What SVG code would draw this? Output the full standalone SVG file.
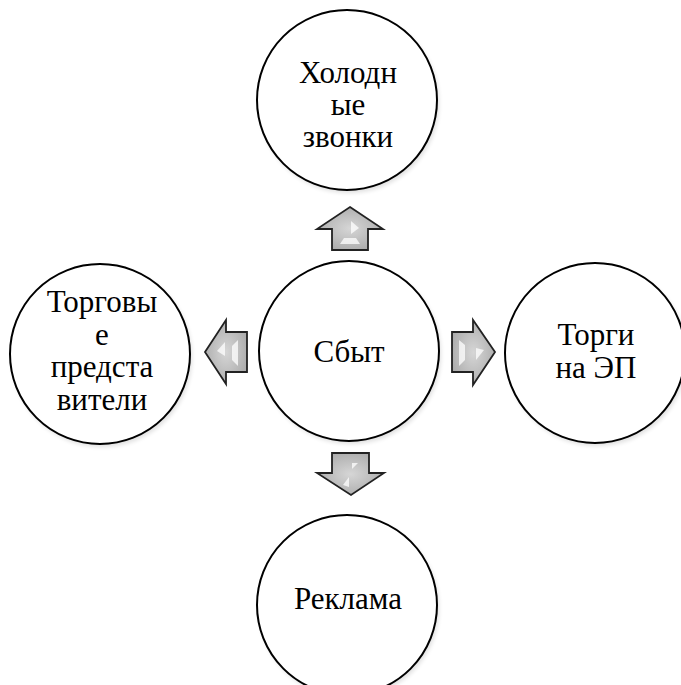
<svg xmlns="http://www.w3.org/2000/svg" width="681" height="685" viewBox="0 0 681 685">
<style>
.node circle.c{fill:#fff;stroke:#000;stroke-width:2}
.node circle.s{fill:#000;opacity:0.12}
.t{font-family:"Liberation Serif","Times New Roman",serif;font-size:31px;fill:#000;text-anchor:middle}
.arr{fill:url(#g);stroke:#222;stroke-width:1.8;stroke-linejoin:miter}
.hl{fill:#fff;opacity:0.75}
</style>
<defs>
<radialGradient id="g" cx="0.5" cy="0.5" r="0.6">
<stop offset="0" stop-color="#d6d6d6"/>
<stop offset="1" stop-color="#a8a8a8"/>
</radialGradient>
<filter id="blur" x="-20%" y="-20%" width="140%" height="140%"><feGaussianBlur stdDeviation="2"/></filter>
</defs>
<rect width="681" height="685" fill="#fff"/>
<g id="connectors">
<g id="arrow-up">
<polygon class="arr" points="350,207 383,229 368,229 368,250 332,250 332,229 317,229"/>
<polygon class="hl" points="351,221 359,228 351,234"/>
<polygon class="hl" points="340,244 344,238 356,238 360,244"/>
</g>
<g id="arrow-down">
<polygon class="arr" points="332,453 369,453 369,473 384,473 351,495 317,473 332,473"/>
<polygon class="hl" points="352,463 358,463 352,469"/>
<polygon class="hl" points="343,485 349,477 349,487"/>
</g>
<g id="arrow-left">
<polygon class="arr" points="205,352 226,320 226,332 247,332 247,372 226,372 226,384"/>
<polygon class="hl" points="217,351 225,342 225,356"/>
<polygon class="hl" points="238,340 238,366 232,360 232,346"/>
</g>
<g id="arrow-right">
<polygon class="arr" points="452,332 473,332 473,320 495,352 473,385 473,372 452,372"/>
<polygon class="hl" points="459,340 465,345 465,360 459,366"/>
<polygon class="hl" points="476,348 484,350 476,360"/>
</g>
</g>
<g id="node-top" class="node">
<circle class="s" cx="349" cy="103" r="90" filter="url(#blur)"/>
<circle class="c" cx="347" cy="100" r="90"/>
<text class="t" x="348" y="83">Холодн</text>
<text class="t" x="348" y="115">ые</text>
<text class="t" x="348" y="147">звонки</text>
</g>
<g id="node-center" class="node">
<circle class="s" cx="351" cy="354" r="90" filter="url(#blur)"/>
<circle class="c" cx="349" cy="351" r="90"/>
<text class="t" x="349" y="362">Сбыт</text>
</g>
<g id="node-left" class="node">
<circle class="s" cx="102" cy="357" r="90" filter="url(#blur)"/>
<circle class="c" cx="100" cy="354" r="90"/>
<text class="t" x="102" y="312">Торговы</text>
<text class="t" x="102" y="345">е</text>
<text class="t" x="102" y="377">предста</text>
<text class="t" x="102" y="410">вители</text>
</g>
<g id="node-right" class="node">
<circle class="s" cx="597" cy="356" r="90" filter="url(#blur)"/>
<circle class="c" cx="595" cy="353" r="90"/>
<text class="t" x="596" y="345">Торги</text>
<text class="t" x="596" y="378">на ЭП</text>
</g>
<g id="node-bottom" class="node">
<circle class="s" cx="349" cy="608" r="90" filter="url(#blur)"/>
<circle class="c" cx="347" cy="605" r="90"/>
<text class="t" x="348" y="609">Реклама</text>
</g>
</svg>
